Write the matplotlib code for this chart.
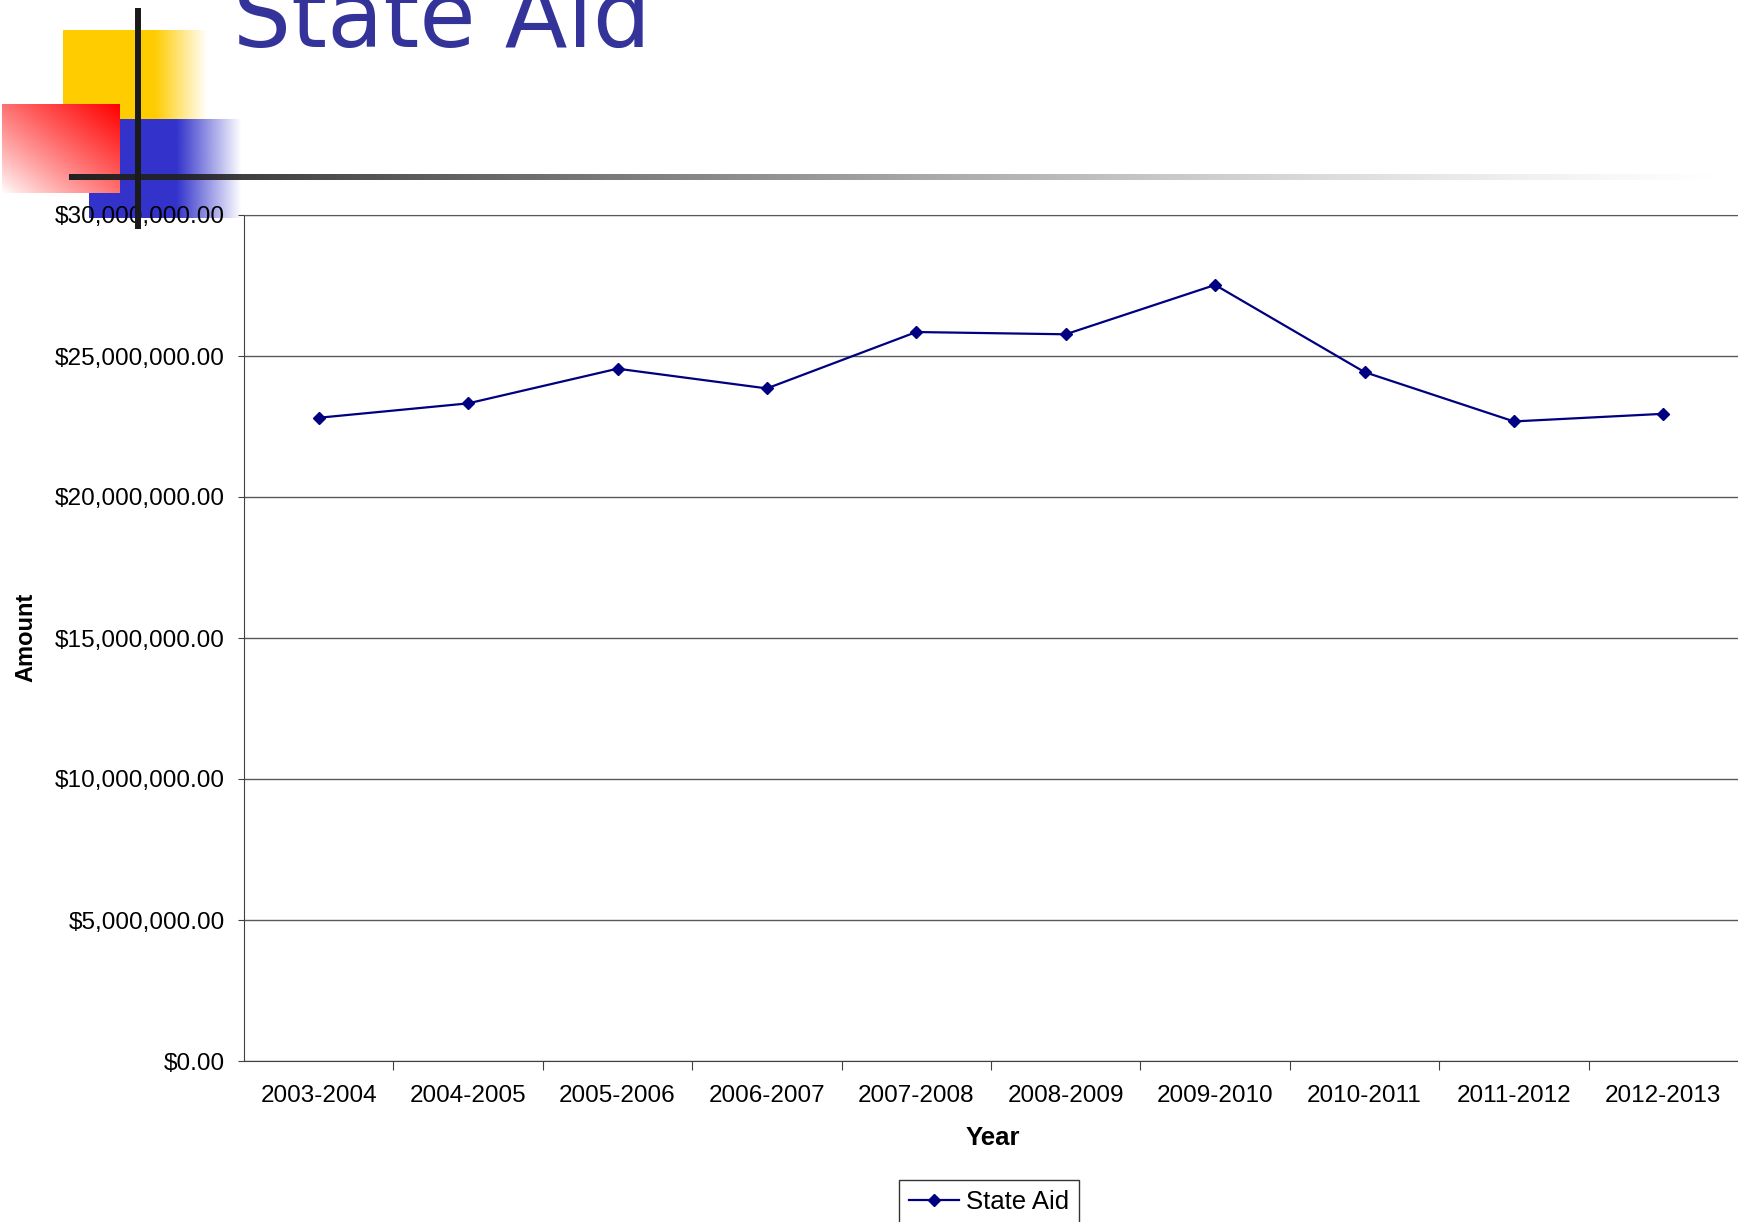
import numpy as np
import matplotlib
matplotlib.use("Agg")
import matplotlib.pyplot as plt
from matplotlib.ticker import FuncFormatter, FixedLocator

plt.rcParams['font.family'] = ['Liberation Sans', 'DejaVu Sans']

# school years and state aid received (dollars)
seasons = ["2003-2004", "2004-2005", "2005-2006", "2006-2007", "2007-2008",
           "2008-2009", "2009-2010", "2010-2011", "2011-2012", "2012-2013"]
state_aid = [22810000, 23320000, 24550000, 23850000, 25850000,
             25770000, 27520000, 24430000, 22680000, 22950000]

W, H = 1738, 1222
fig = plt.figure(figsize=(W / 100, H / 100), dpi=100)


def pixel_layer(z):
    # full-figure axes working in pixel units, y pointing down
    lay = fig.add_axes([0, 0, 1, 1], zorder=z)
    lay.set_xlim(0, W)
    lay.set_ylim(H, 0)
    lay.axis('off')
    lay.patch.set_alpha(0)
    return lay


def fade_box(lay, x0, x1, y0, y1, rgb, solid_to):
    # colour block that is solid up to solid_to, then fades out to the right
    xs = np.linspace(x0, x1, 200)
    a = np.clip((x1 - xs) / (x1 - solid_to), 0, 1)
    img = np.zeros((2, len(xs), 4))
    img[..., :3] = rgb
    img[..., 3] = a
    lay.imshow(img, extent=(x0, x1, y1, y0), aspect='auto', interpolation='bilinear')


back = pixel_layer(0)

# slide ornament: yellow, blue and red blocks
fade_box(back, 63, 208, 30, 119, (1.0, 0.8, 0.0), 155)
fade_box(back, 89, 242, 119, 218, (0.2, 0.2, 0.8), 177)

u = np.linspace(0, 1, 120)[None, :]
v = np.linspace(0, 1, 90)[:, None]
t = np.clip((u + (1 - v)) / 2, 0, 1) ** 0.85
red = np.ones((90, 120, 3))
red[..., 1] = 1 - t
red[..., 2] = 1 - t
back.imshow(red, extent=(2, 120, 193, 104), aspect='auto', interpolation='bilinear')

back.text(233, 47, "State Aid", fontsize=66, color='#333399',
          family='DejaVu Sans', ha='left', va='baseline')
back.set_xlim(0, W)
back.set_ylim(H, 0)

# chart
ax = fig.add_axes([244 / W, 1 - 1061 / H, 1 - 244 / W, (1061 - 215) / H], zorder=1)
x = np.arange(len(seasons))
ax.plot(x, state_aid, color='#000080', lw=1.6, marker='D', ms=6.2,
        label='State Aid')

ax.set_xlim(-0.5, len(seasons) - 0.5)
ax.set_ylim(0, 30000000)
ax.set_yticks(np.arange(0, 30000001, 5000000))
ax.yaxis.set_major_formatter(FuncFormatter(lambda val, pos: f"${val:,.2f}"))
ax.yaxis.grid(True, color='#595959', lw=1.0)
ax.set_axisbelow(True)

ax.xaxis.set_major_locator(FixedLocator(x[:-1] + 0.5))
ax.xaxis.set_minor_locator(FixedLocator(x))
ax.set_xticklabels([])
ax.set_xticks(x, seasons, minor=True)
ax.tick_params(axis='x', which='major', length=6.5, color='#404040', direction='out')
ax.tick_params(axis='x', which='minor', length=0, pad=17, labelsize=17.5)
ax.tick_params(axis='y', length=4, pad=10, labelsize=17.6, color='#404040')

for side in ['left', 'bottom']:
    ax.spines[side].set_color('#404040')
ax.spines['top'].set_color('#595959')
ax.spines['right'].set_visible(False)

fig.text(26 / W, 1 - 637 / H, 'Amount', rotation=90, ha='center', va='center',
         fontweight='bold', fontsize=17)
fig.text(993 / W, 1 - 1138 / H, 'Year', ha='center', va='center',
         fontweight='bold', fontsize=18.5)

leg = fig.legend(loc='upper left', bbox_to_anchor=(899 / W, 1 - 1180 / H),
                 borderaxespad=0, fontsize=18.5, frameon=True, fancybox=False,
                 edgecolor='black', handlelength=1.95, handletextpad=0.25,
                 borderpad=0.4)
leg.get_frame().set_linewidth(1.0)

# black cross bars over the ornament
front = pixel_layer(3)
xs = np.linspace(69, W, 600)
bar = np.zeros((2, len(xs), 4))
bar[..., :3] = 0.13
bar[..., 3] = (1 - (xs - 69) / (W - 69)) ** 1.3
front.imshow(bar, extent=(69, W, 180, 174), aspect='auto', interpolation='bilinear')
front.plot([138, 138], [8, 229], color='#1a1a1a', lw=4.3, solid_capstyle='butt')
front.set_xlim(0, W)
front.set_ylim(H, 0)

fig.savefig('out.png', dpi=100, facecolor='white')
